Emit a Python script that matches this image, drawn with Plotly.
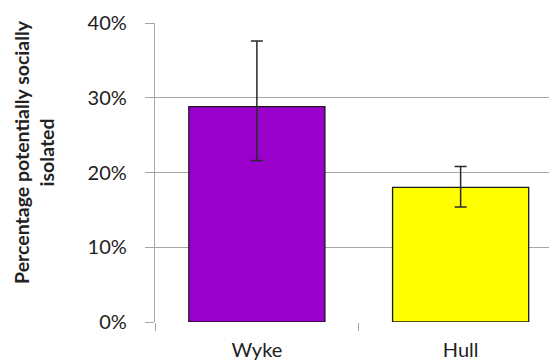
import plotly.graph_objects as go

categories = ["Wyke", "Hull"]
values = [28.8, 18.0]
err_upper = [37.6, 20.8]
err_lower = [21.6, 15.4]
bar_colors = ["#9900CC", "#FFFF00"]
y_ticks = [0, 10, 20, 30, 40]
y_tick_labels = ["0%", "10%", "20%", "30%", "40%"]

arr_plus = [u - v for u, v in zip(err_upper, values)]
arr_minus = [v - l for v, l in zip(values, err_lower)]

fig = go.Figure(go.Bar(
    x=categories, y=values,
    marker=dict(color=bar_colors, line=dict(color="#1a1a1a", width=1.3)),
    width=0.668,
    error_y=dict(type="data", symmetric=False, array=arr_plus, arrayminus=arr_minus,
                 color="#2a2a2a", thickness=1.5, width=6),
))

grid = "#A6A6A6"
fig.update_layout(
    width=549, height=352,
    margin=dict(l=147, r=0, t=15, b=38),
    paper_bgcolor="white", plot_bgcolor="white",
    font=dict(family="Lato, Carlito, sans-serif", color="#222"),
    showlegend=False,
    xaxis=dict(range=[-0.5, 1.473], ticks="outside", tickson="boundaries",
               ticklen=8, tickcolor=grid, showline=False, showgrid=False,
               tickfont=dict(size=20), ticklabelstandoff=14, zeroline=False),
    yaxis=dict(range=[0, 40], tickvals=y_ticks, ticktext=y_tick_labels,
               tickmode="array",
               showgrid=True, gridcolor=grid, gridwidth=1.3,
               showline=True, linecolor=grid, linewidth=1.3,
               ticks="outside", ticklen=9, tickcolor=grid,
               tickfont=dict(size=20), ticklabelstandoff=14, zeroline=False),
    annotations=[dict(text="<b>Percentage potentially socially<br>isolated</b>",
                      textangle=-90, xref="paper", yref="paper",
                      x=-0.301, y=0.5686, xanchor="center", yanchor="middle",
                      showarrow=False, font=dict(size=19.5, color="#222"))],
)
fig.write_html("out.html")
